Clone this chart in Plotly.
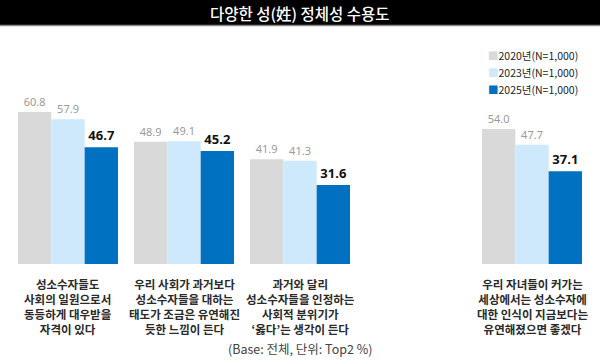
import plotly.graph_objects as go

# ---- data ----
categories = [
    "성소수자들도<br>사회의 일원으로서<br>동등하게 대우받을<br>자격이 있다",
    "우리 사회가 과거보다<br>성소수자들을 대하는<br>태도가 조금은 유연해진<br>듯한 느낌이 든다",
    "과거와 달리<br>성소수자들을 인정하는<br>사회적 분위기가<br>‘옳다’는 생각이 든다",
    "우리 자녀들이 커가는<br>세상에서는 성소수자에<br>대한 인식이 지금보다는<br>유연해졌으면 좋겠다",
]
cat_pos = [0, 1, 2, 4]
series_names = ["2020년(N=1,000)", "2023년(N=1,000)", "2025년(N=1,000)"]
values_2020 = [60.8, 48.9, 41.9, 54.0]
values_2023 = [57.9, 49.1, 41.3, 47.7]
values_2025 = [46.7, 45.2, 31.6, 37.1]
series_values = [values_2020, values_2023, values_2025]
colors = ["#d9d9d9", "#cde9fb", "#0070c0"]
label_colors = ["#9a9a9a", "#9a9a9a", "#111111"]
label_sizes = [11, 11, 13]
label_bold = [False, False, True]

W, H = 600, 360
ML, MR, MT, MB = 0, 0, 40, 96
PH = H - MT - MB  # 224
YMAX = PH / 2.5
KFONT = "Noto Sans CJK KR"

fig = go.Figure()
for name, vals, col, lc, ls, lb in zip(series_names, series_values, colors,
                                       label_colors, label_sizes, label_bold):
    fig.add_trace(go.Bar(
        x=cat_pos, y=vals, name=name, marker=dict(color=col, line=dict(width=0)),
        texttemplate="%{y:.1f}", textposition="outside",
        textfont=dict(color=lc, size=ls, family="Noto Sans", weight=700 if lb else 400),
        cliponaxis=False, showlegend=False,
    ))

ann = []
# category labels
for p, c in zip(cat_pos, categories):
    ann.append(dict(x=p, y=0, xref="x", yref="y", text=c, showarrow=False,
                    xanchor="center", yanchor="top", yshift=-10, align="center",
                    font=dict(family=KFONT, size=11.5, color="#2a2a2a", weight=700)))
# legend
for i, (name, col) in enumerate(zip(series_names, colors)):
    ypx = 55 + 17 * i
    ann.append(dict(x=486 / W, y=(264 - ypx) / PH, xref="paper", yref="paper",
                    text=f'<span style="color:{col}">■</span>{name}', showarrow=False,
                    xanchor="left", yanchor="middle",
                    font=dict(family=KFONT, size=10.5, color="#222222")))
# footer
ann.append(dict(x=0.5, y=(264 - 348) / PH, xref="paper", yref="paper",
                text="(Base: 전체, 단위: Top2 %)", showarrow=False,
                xanchor="center", yanchor="middle",
                font=dict(family=KFONT, size=12.5, color="#444444")))
# title
ann.append(dict(x=0.5, y=(264 - 13) / PH, xref="paper", yref="paper",
                text="다양한 성(姓) 정체성 수용도", showarrow=False,
                xanchor="center", yanchor="middle",
                font=dict(family=KFONT, size=15.5, color="#ffffff", weight=500)))

shapes = [
    dict(type="rect", xref="paper", yref="paper", x0=0, x1=1,
         y0=(264 - 25) / PH, y1=264 / PH + 0.01,
         fillcolor="#000000", line=dict(width=0), layer="below"),
    dict(type="line", xref="paper", yref="paper", x0=0, x1=1,
         y0=(264 - 25.5) / PH, y1=(264 - 25.5) / PH,
         line=dict(color="#8a8a8a", width=1.5), layer="below"),
]

fig.update_layout(
    width=W, height=H, margin=dict(l=ML, r=MR, t=MT, b=MB),
    paper_bgcolor="#ffffff", plot_bgcolor="#ffffff",
    barmode="group", bargap=16 / 116, bargroupgap=0,
    xaxis=dict(range=[-68 / 116, (W - 68) / 116], visible=False, fixedrange=True),
    yaxis=dict(range=[0, YMAX], visible=False, fixedrange=True),
    annotations=ann, shapes=shapes,
    font=dict(family=KFONT),
)

fig.write_html("out.html", config={"displayModeBar": False},
               post_script="document.body.style.margin='0';document.body.style.overflow='hidden';")
